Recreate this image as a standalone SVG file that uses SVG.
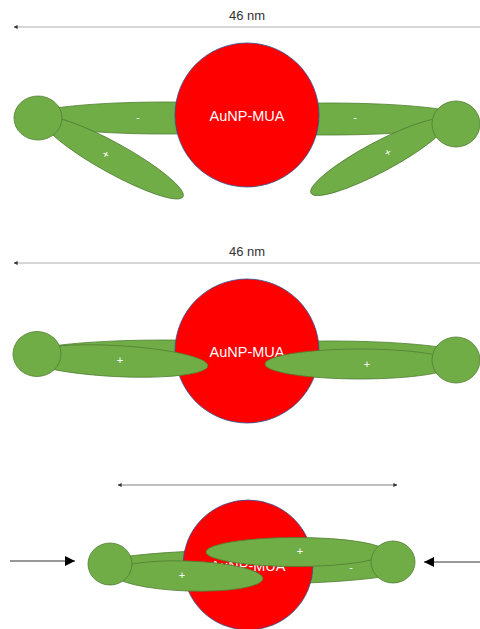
<svg xmlns="http://www.w3.org/2000/svg" width="480" height="629" viewBox="0 0 480 629">
  <defs>
    <style>
      .arm { fill: #70AD47; stroke: #507E32; stroke-width: 0.8; }
      .ball { fill: #70AD47; stroke: #507E32; stroke-width: 0.8; }
      .core { fill: #FF0000; stroke: #2F528F; stroke-width: 0.8; }
      .core-label { font-family: "Liberation Sans", Arial, sans-serif; font-size: 14.5px; fill: #FFFFFF; text-anchor: middle; }
      .charge { font-family: "Liberation Sans", Arial, sans-serif; font-size: 11px; fill: #FFFFFF; text-anchor: middle; dominant-baseline: central; }
      .dim-label { font-family: "Liberation Sans", Arial, sans-serif; font-size: 13px; fill: #333333; text-anchor: middle; }
      .dim-wide { stroke: #C8C8C8; stroke-width: 1.5; fill: none; }
      .dim-short { stroke: #7F7F7F; stroke-width: 1; fill: none; }
      .push { stroke: #333333; stroke-width: 1; fill: none; }
    </style>
    <marker id="tip-small" viewBox="0 0 10 10" refX="9" refY="5" markerWidth="4" markerHeight="4" orient="auto-start-reverse" markerUnits="userSpaceOnUse">
      <path d="M0,0 L10,5 L0,10 z" fill="#333333"/>
    </marker>
    <marker id="tip-big" viewBox="0 0 10 10" refX="10" refY="5" markerWidth="11" markerHeight="10" orient="auto" markerUnits="userSpaceOnUse">
      <path d="M0,0 L10,5 L0,10 z" fill="#000000"/>
    </marker>
  </defs>

  <!-- dimension lines and compression arrows -->
  <g id="connectors">
    <line class="dim-wide" x1="482" y1="27" x2="14" y2="27" marker-end="url(#tip-small)"/>
    <line class="dim-wide" x1="482" y1="263" x2="14" y2="263" marker-end="url(#tip-small)"/>
    <line class="dim-short" x1="118" y1="485" x2="397" y2="485" marker-start="url(#tip-small)" marker-end="url(#tip-small)"/>
    <line class="push" x1="10" y1="561" x2="75" y2="561" marker-end="url(#tip-big)"/>
    <line class="push" x1="480" y1="562" x2="424" y2="562" marker-end="url(#tip-big)"/>
  </g>

  <g id="labels">
    <text class="dim-label" x="247" y="20">46 nm</text>
    <text class="dim-label" x="247" y="256">46 nm</text>
  </g>

  <!-- state 1: arms folded open -->
  <g id="state-open">
    <ellipse class="arm" cx="165" cy="118" rx="140" ry="16"/>
    <ellipse class="arm" cx="330" cy="119" rx="140" ry="16"/>
    <g transform="translate(113 158) rotate(29)">
      <ellipse class="arm" cx="0" cy="0" rx="80" ry="15"/>
      <text class="charge" x="-8" y="0">+</text>
    </g>
    <g transform="translate(379 157) rotate(-28)">
      <ellipse class="arm" cx="0" cy="0" rx="77" ry="15"/>
      <text class="charge" x="10" y="0">+</text>
    </g>
    <text class="charge" x="138" y="117">-</text>
    <text class="charge" x="355" y="117">-</text>
    <ellipse class="ball" cx="38" cy="118" rx="24" ry="22"/>
    <ellipse class="ball" cx="456" cy="124" rx="24" ry="23"/>
    <circle class="core" cx="247" cy="115" r="72"/>
    <text class="core-label" x="247" y="121">AuNP-MUA</text>
  </g>

  <!-- state 2: arms extended -->
  <g id="state-extended">
    <ellipse class="arm" cx="165" cy="355" rx="140" ry="15"/>
    <ellipse class="arm" cx="330" cy="357" rx="140" ry="16"/>
    <circle class="core" cx="247" cy="351" r="72"/>
    <text class="core-label" x="247" y="357">AuNP-MUA</text>
    <ellipse class="arm" cx="115" cy="361" rx="93" ry="15.5" transform="rotate(3 115 361)"/>
    <ellipse class="arm" cx="360" cy="364" rx="95" ry="15"/>
    <text class="charge" x="120" y="360">+</text>
    <text class="charge" x="367" y="364">+</text>
    <ellipse class="ball" cx="37" cy="354" rx="24" ry="22.5"/>
    <ellipse class="ball" cx="456" cy="360" rx="24" ry="23"/>
  </g>

  <!-- state 3: arms compressed -->
  <g id="state-compressed">
    <ellipse class="arm" cx="252" cy="567" rx="160" ry="17"/>
    <text class="charge" x="351" y="567">-</text>
    <circle class="core" cx="248" cy="565" r="65"/>
    <text class="core-label" x="248" y="571">AuNP-MUA</text>
    <ellipse class="arm" cx="188" cy="576" rx="75" ry="15" transform="rotate(2 188 576)"/>
    <ellipse class="arm" cx="296" cy="552" rx="90" ry="14.5"/>
    <text class="charge" x="182" y="575">+</text>
    <text class="charge" x="300" y="551">+</text>
    <ellipse class="ball" cx="110" cy="564" rx="22" ry="21"/>
    <ellipse class="ball" cx="393" cy="562" rx="22" ry="21"/>
  </g>
</svg>
